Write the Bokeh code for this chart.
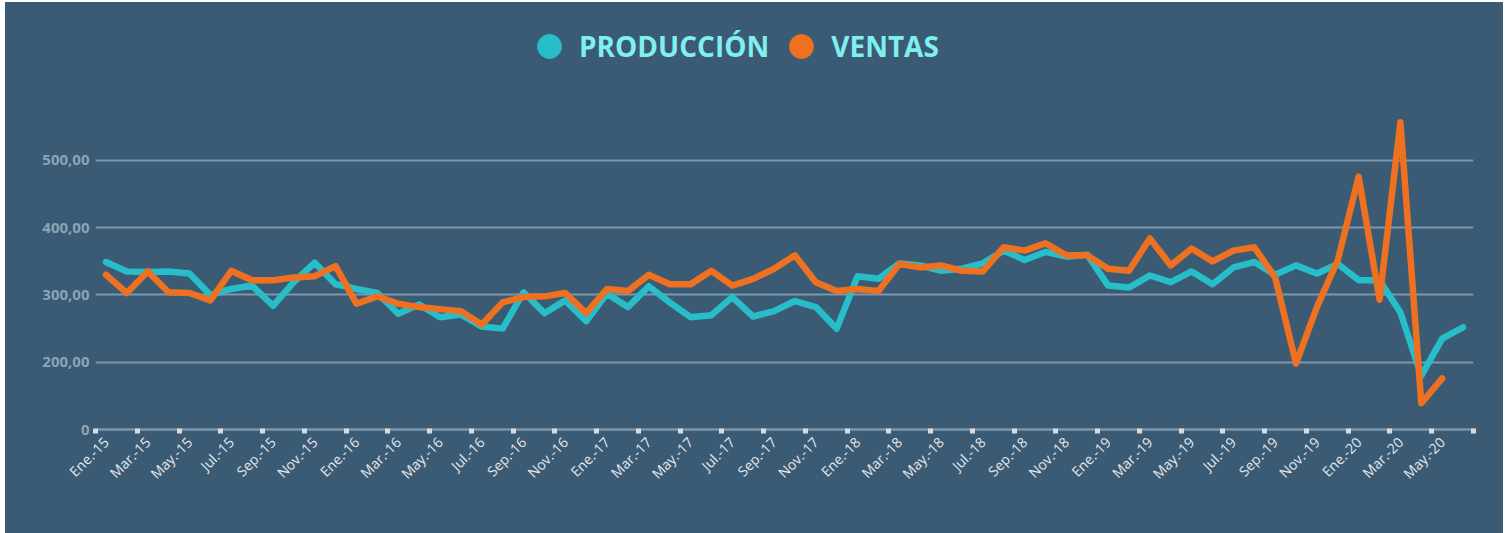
import math
from bokeh.plotting import figure
from bokeh.models import FixedTicker, Legend, LegendItem, Range1d
from bokeh.embed import file_html
from bokeh.resources import INLINE

# ---- data ----
meses = ["Ene.", "Feb.", "Mar.", "Abr.", "May.", "Jun.", "Jul.", "Ago.", "Sep.", "Oct.", "Nov.", "Dic."]
anios = ["15", "16", "17", "18", "19", "20"]
categorias = [f"{m}-{a}" for a in anios for m in meses][:66]   # Ene.-15 ... Jun.-20

produccion = [349, 335, 334, 335, 332, 300, 309, 314, 284, 319, 348, 316,
              309, 303, 272, 286, 267, 271, 253, 250, 304, 273, 292, 261,
              302, 282, 313, 289, 267, 270, 297, 268, 276, 291, 282, 250,
              328, 324, 347, 344, 336, 339, 347, 366, 352, 364, 357, 360,
              314, 311, 329, 319, 335, 316, 341, 349, 330, 344, 332, 346,
              322, 322, 274, 180, 235, 252]

ventas = [330, 303, 335, 304, 303, 292, 336, 322, 322, 326, 328, 343,
          287, 298, 287, 282, 279, 276, 256, 289, 297, 298, 303, 273,
          309, 306, 330, 316, 316, 336, 314, 324, 339, 359, 319, 306,
          309, 306, 346, 341, 344, 336, 335, 371, 366, 377, 359, 359,
          339, 336, 384, 344, 369, 350, 366, 371, 326, 198, 282, 352,
          476, 293, 557, 139, 176]

y_ticks = [100, 200, 300, 400, 500]
y_labels = ["0", "200,00", "300,00", "400,00", "500,00"]

# ---- style ----
BG = "#3b5a73"
GRID = "#7b98ae"
CYAN = "#27bdc9"
ORANGE = "#ee7122"
LEG_TXT = "#7fefef"

n = len(categorias)
x_prod = list(range(len(produccion)))
x_vent = list(range(len(ventas)))

p = figure(width=1498, height=531,
           x_range=Range1d(-0.5, n - 0.5), y_range=Range1d(100, 723),
           output_backend="svg", toolbar_location=None,
           min_border_left=90, min_border_right=30,
           min_border_bottom=104, min_border_top=8,
           background_fill_color=None, border_fill_color=None,
           outline_line_color=None)
p.margin = (2, 2, 0, 5)
p.styles = {"background-color": BG}

p.line(x_prod, produccion, line_color=CYAN, line_width=6.5,
       line_join="round", line_cap="round")
p.line(x_vent, ventas, line_color=ORANGE, line_width=6.5,
       line_join="round", line_cap="round")

# x axis: labels at even-month centres, square ticks at category boundaries
label_pos = list(range(0, n, 2))
boundaries = [i - 0.5 for i in range(0, n + 1, 2)]
xax = p.xaxis[0]
xax.ticker = FixedTicker(ticks=label_pos, minor_ticks=boundaries)
xax.major_label_overrides = {i: categorias[i] for i in label_pos}
xax.major_label_orientation = math.pi / 4
xax.major_label_text_font = "Open Sans"
xax.major_label_text_font_size = "14px"
xax.major_label_text_color = "#e4e8ec"
xax.major_label_standoff = 4
xax.major_tick_line_color = None
xax.major_tick_out = 6
xax.major_tick_in = 0
xax.minor_tick_line_color = "#d9d9d9"
xax.minor_tick_line_width = 5
xax.minor_tick_out = 4
xax.minor_tick_in = 1
xax.axis_line_color = GRID
xax.axis_line_width = 2.5

yax = p.yaxis[0]
yax.ticker = FixedTicker(ticks=y_ticks)
yax.major_label_overrides = dict(zip(y_ticks, y_labels))
yax.major_label_text_font = "Open Sans"
yax.major_label_text_font_style = "bold"
yax.major_label_text_font_size = "15px"
yax.major_label_text_color = "#8aa4b8"
yax.major_label_standoff = 6
yax.axis_line_color = None
yax.major_tick_line_color = None
yax.minor_tick_line_color = None
yax.major_tick_out = 0

p.xgrid.grid_line_color = None
p.ygrid.grid_line_color = GRID
p.ygrid.grid_line_width = 2

# legend with circle markers (renderers hold no visible point)
nan = float("nan")
d1 = p.scatter(x=[nan], y=[nan], marker="circle", size=24, fill_color=CYAN, line_color=CYAN)
d2 = p.scatter(x=[nan], y=[nan], marker="circle", size=24, fill_color=ORANGE, line_color=ORANGE)
legend = Legend(items=[LegendItem(label="PRODUCCIÓN", renderers=[d1]),
                       LegendItem(label="VENTAS", renderers=[d2])],
                orientation="horizontal", location=(424, 353),
                glyph_width=60, glyph_height=60, label_height=60,
                label_standoff=0, spacing=2, padding=0, margin=0,
                background_fill_alpha=0, border_line_color=None,
                label_text_font="Open Sans", label_text_font_style="bold",
                label_text_font_size="28px", label_text_color=LEG_TXT)
p.add_layout(legend)

open("out.html", "w").write(file_html(p, INLINE))
